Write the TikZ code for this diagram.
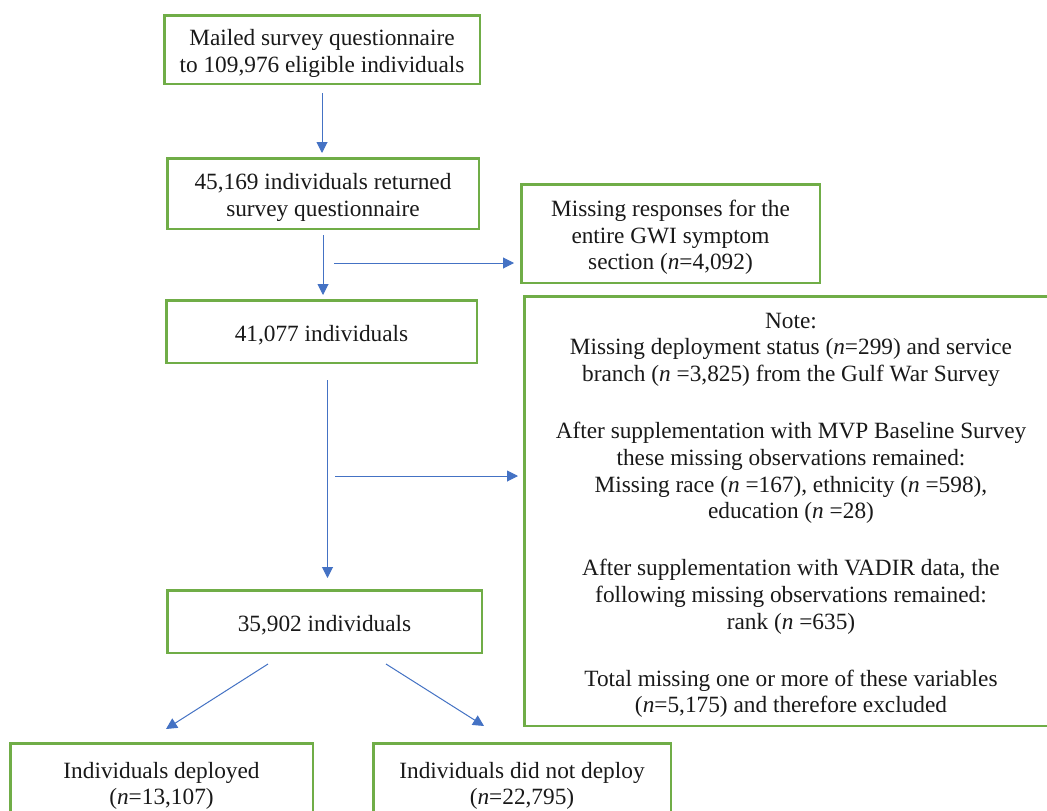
\documentclass[tikz,border=0pt]{standalone}
\usepackage{fontspec}
\setmainfont{Liberation Serif}
\usetikzlibrary{arrows.meta,calc}
\definecolor{boxgreen}{HTML}{70AD47}
\definecolor{arrblue}{HTML}{4472C4}
\newcommand{\tstrut}{\rule{0pt}{24pt}}
\begin{document}
\begin{tikzpicture}[x=1pt,y=-1pt,
  fbox/.style={draw=boxgreen, line width=2.5pt, inner sep=0pt, align=center,
    font=\fontsize{23.3}{26.8}\selectfont, text=black!90},
  arr/.style={draw=arrblue, line width=1pt, -{Triangle[length=11pt,width=11pt]}, arrblue}
]
\useasboundingbox (0,0) rectangle (1047,811);
\clip (0,0) rectangle (1047,811);
\fill[white] (0,0) rectangle (1047,811);

\node[fbox, minimum width=315.5pt, minimum height=68.5pt] (b1) at (322,49.5)
  {\tstrut Mailed survey questionnaire\\to 109,976 eligible individuals};
\node[fbox, minimum width=311.5pt, minimum height=70.5pt] (b2) at (323,193.5)
  {\tstrut 45,169 individuals returned\\survey questionnaire};
\node[fbox, minimum width=298.5pt, minimum height=98.5pt] (rb) at (670.5,233.5)
  {\tstrut Missing responses for the\\entire GWI symptom\\section (\textit{n}=4,092)};
\node[fbox, minimum width=310.5pt, minimum height=62.5pt] (b3) at (321.5,331.5)
  {\tstrut 41,077 individuals};
\node[fbox, minimum width=533.5pt, minimum height=429.5pt] (note) at (791,511)
  {\tstrut Note:\\
   Missing deployment status (\textit{n}=299) and service\\
   branch (\textit{n} =3,825) from the Gulf War Survey\\[30pt]
   After supplementation with MVP Baseline Survey\\
   these missing observations remained:\\
   Missing race (\textit{n} =167), ethnicity (\textit{n} =598),\\
   education (\textit{n} =28)\\[30pt]
   After supplementation with VADIR data, the\\
   following missing observations remained:\\
   rank (\textit{n} =635)\\[30pt]
   Total missing one or more of these variables\\
   (\textit{n}=5,175) and therefore excluded};
\node[fbox, minimum width=314.5pt, minimum height=62.5pt] (b4) at (324.5,621.5)
  {\tstrut 35,902 individuals};
\node[fbox, minimum width=302.5pt, minimum height=77.5pt] (bl) at (161.5,782)
  {\tstrut Individuals deployed\\(\textit{n}=13,107)};
\node[fbox, minimum width=297.5pt, minimum height=77.5pt] (br) at (522,782)
  {\tstrut Individuals did not deploy\\(\textit{n}=22,795)};

\coordinate (h1) at (334,263);
\coordinate (h2) at (335,476);

\draw[arr, shorten <=8pt, shorten >=4pt] (b1.south) -- (b1.south |- b2.north);
\draw[arr, shorten <=5pt, shorten >=4pt] (b2.south) -- (b2.south |- b3.north);
\draw[arr, shorten >=6pt] (h1) -- (h1 -| rb.west);
\draw[arr, shorten <=16pt, shorten >=11pt] ([xshift=6pt]b3.south) -- ([xshift=6pt]b3.south |- b4.north);
\draw[arr, shorten >=5pt] (h2) -- (h2 -| note.west);
\draw[arr] ($(b4.south)+(-56.5,10)$) -- ($(bl.north)+(4.5,-13)$);
\draw[arr] ($(b4.south)+(61.5,10)$) -- ($(br.north)+(-38,-16)$);
\end{tikzpicture}
\end{document}
